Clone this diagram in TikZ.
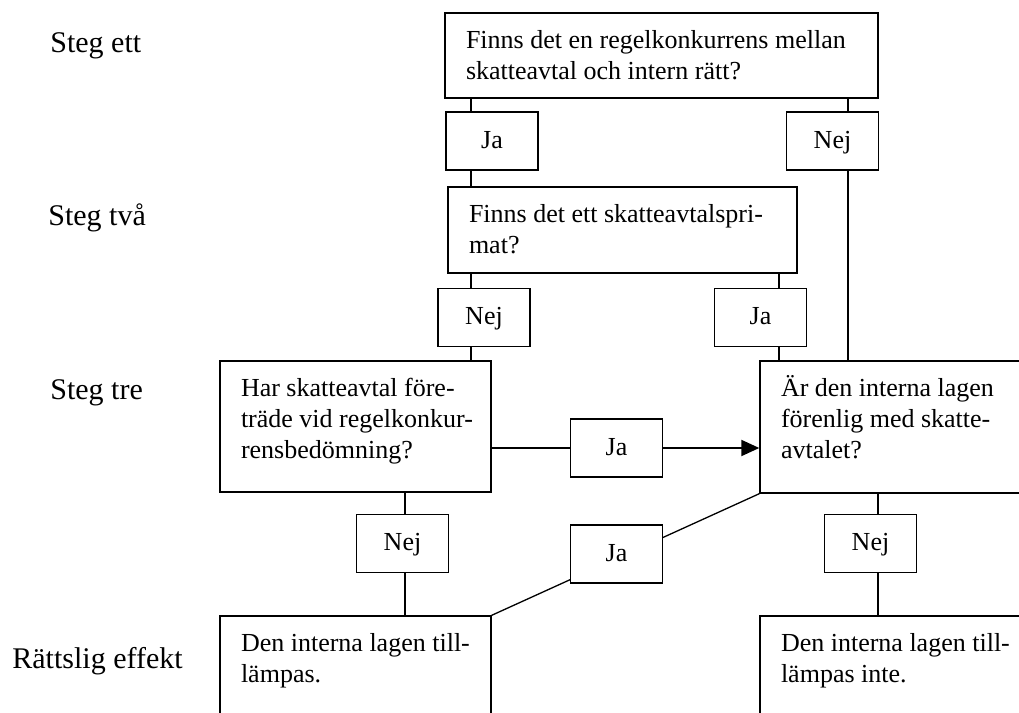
\documentclass[tikz,border=0pt]{standalone}
\usepackage{fontspec}
\setmainfont{Liberation Serif}
\usetikzlibrary{arrows.meta,backgrounds}

\newcommand{\qtext}[3]{\parbox[c][#2][t]{#1}{\raggedright\strut #3}}

\tikzset{
  question/.style={draw, line width=0.7pt, fill=white, inner xsep=10.5pt, inner ysep=7pt,
    font=\fontsize{13}{15.5}\selectfont},
  answer/.style={draw, line width=0.7pt, fill=white, minimum width=46pt, minimum height=29pt,
    inner sep=0pt, text height=9pt, text depth=2pt, font=\fontsize{13}{15.5}\selectfont},
  steglabel/.style={anchor=base west, inner sep=0pt, font=\fontsize{15}{18}\selectfont},
  link/.style={line width=0.65pt},
  flow/.style={line width=1pt}
}

\begin{document}
\begin{tikzpicture}[x=0.5pt,y=-0.5pt]
    \useasboundingbox (0,0) rectangle (1019,713);
    \clip (0,0) rectangle (1019,713);

    % the steps on the left
    \node[steglabel] (s1) at (50,52) {Steg ett};
    \node[steglabel] (s2) at (48,225) {Steg två};
    \node[steglabel] (s3) at (50,399) {Steg tre};
    \node[steglabel] (s4) at (12,668) {Rättslig effekt};

    % the questions
    \node[question] (top) at (661.5,55.5) {\qtext{195.5pt}{28.5pt}{Finns det en regelkonkurrens mellan\\ skatteavtal och intern rätt?}};
    \node[question] (q2) at (622.5,230) {\qtext{153.5pt}{29pt}{Finns det ett skatteavtalspri-\\ mat?}};
    \node[question] (q3l) at (355.5,426.5) {\qtext{114.5pt}{51.5pt}{Har skatteavtal före-\\ \mbox{träde vid regelkonkur-}\\ rensbedömning?}};
    \node[question] (q3r) at (900,427) {\qtext{119pt}{52pt}{Är den interna lagen\\ förenlig med skatte-\\ avtalet?}};

    % the effects (cut off at the bottom)
    \node[question] (bl) at (355.5,678) {\qtext{114.5pt}{48pt}{\mbox{Den interna lagen till-}\\ lämpas.}};
    \node[question] (br) at (900,678) {\qtext{119pt}{48pt}{Den interna lagen till-\\ lämpas inte.}};

    % the answers
    \node[answer] (ja1) at (492,141) {Ja};
    \node[answer] (nej1) at (832.5,141) {Nej};
    \node[answer] (nej2) at (484,317.5) {Nej};
    \node[answer] (ja2) at (760.5,317.5) {Ja};
    \node[answer] (ja3) at (616.5,448) {Ja};
    \node[answer] (ja4) at (616.5,554) {Ja};
    \node[answer] (nej3l) at (402.5,543.5) {Nej};
    \node[answer] (nej3r) at (870.5,543.5) {Nej};

    % columns for the vertical lines
    \coordinate (colA) at (471,0);
    \coordinate (colB) at (848,0);
    \coordinate (colC) at (779,0);
    \coordinate (colD) at (405,0);
    \coordinate (colE) at (878,0);

    % draw the lines
    \draw[link] (top.south -| colA) -- (ja1.north -| colA);
    \draw[link] (ja1.south -| colA) -- (q2.north -| colA);
    \draw[link] (top.south -| colB) -- (nej1.north -| colB);
    \draw[link] (nej1.south -| colB) -- (q3r.north -| colB);
    \draw[link] (q2.south -| colA) -- (nej2.north -| colA);
    \draw[link] (nej2.south -| colA) -- (q3l.north -| colA);
    \draw[link] (q2.south -| colC) -- (ja2.north -| colC);
    \draw[link] (ja2.south -| colC) -- (q3r.north -| colC);
    \draw[link] (q3l.south -| colD) -- (nej3l.north -| colD);
    \draw[link] (nej3l.south -| colD) -- (bl.north -| colD);
    \draw[link] (q3r.south -| colE) -- (nej3r.north -| colE);
    \draw[link] (nej3r.south -| colE) -- (br.north -| colE);
    \begin{scope}[on background layer]
      \draw[link] (bl.north east) -- (q3r.south west);
    \end{scope}

    % the arrow
    \draw[flow] (ja3.west -| q3l.east) -- (ja3.west);
    \draw[flow,-{Triangle[length=9pt,width=8pt]}] (ja3.east) -- (ja3.east -| q3r.west);

\end{tikzpicture}
\end{document}
